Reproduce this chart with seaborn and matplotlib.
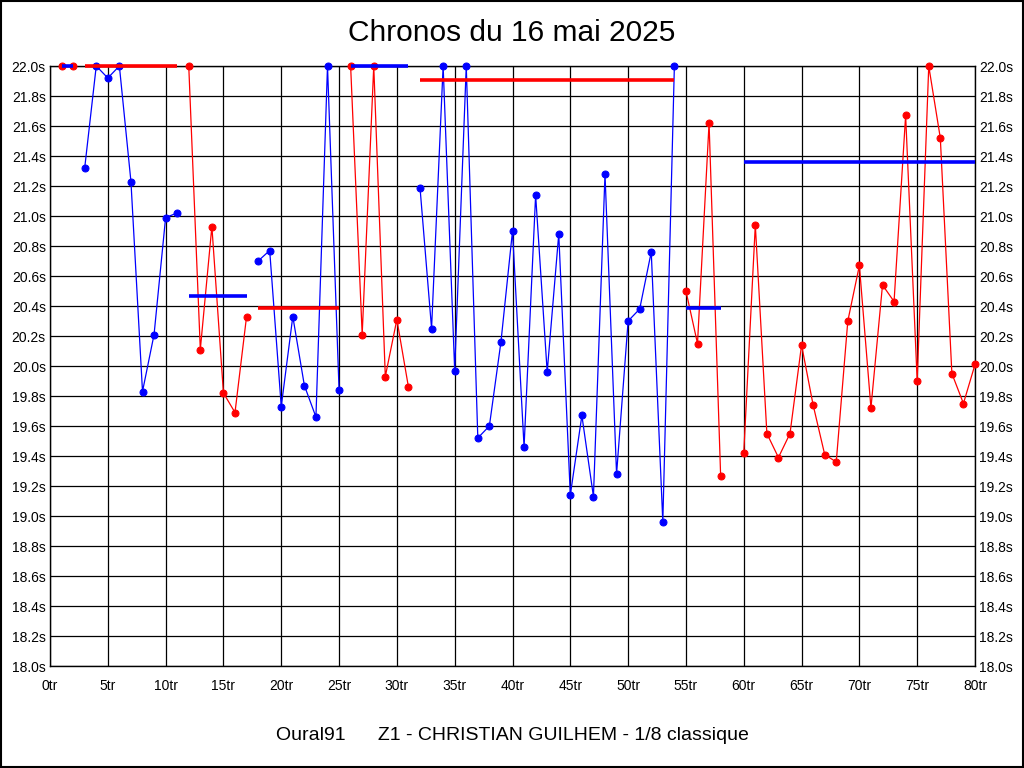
import numpy as np
import pandas as pd
import matplotlib
matplotlib.use("Agg")
import matplotlib.pyplot as plt
from matplotlib.patches import Rectangle
import seaborn as sns

# lap times (s), values above 22 s are shown clipped at 22.0
tours = list(range(1, 81))
chronos = [
    22.00, 22.00, 21.32, 22.00, 21.92, 22.00, 21.23, 19.83, 20.21, 20.99,
    21.02, 22.00, 20.11, 20.93, 19.82, 19.69, 20.33, 20.70, 20.77, 19.73,
    20.33, 19.87, 19.66, 22.00, 19.84, 22.00, 20.21, 22.00, 19.93, 20.31,
    19.86, 21.19, 20.25, 22.00, 19.97, 22.00, 19.52, 19.60, 20.16, 20.90,
    19.46, 21.14, 19.96, 20.88, 19.14, 19.67, 19.13, 21.28, 19.28, 20.30,
    20.38, 20.76, 18.96, 22.00, 20.50, 20.15, 21.62, 19.27, np.nan, 19.42,
    20.94, 19.55, 19.39, 19.55, 20.14, 19.74, 19.41, 19.36, 20.30, 20.67,
    19.72, 20.54, 20.43, 21.67, 19.90, 22.00, 21.52, 19.95, 19.75, 20.01,
]

# stints (relais): first lap, last lap, point colour, mean-line colour, mean
relais_debut = [1, 3, 12, 18, 26, 32, 55, 60]
relais_fin = [2, 11, 17, 25, 31, 54, 58, 80]
relais_couleur = ["red", "blue", "red", "blue", "red", "blue", "red", "red"]
moyenne_couleur = ["blue", "red", "blue", "red", "blue", "red", "blue", "blue"]
moyennes = [22.00, 22.00, 20.47, 20.39, 22.00, 21.91, 20.385, 21.36]

df = pd.DataFrame({"tour": tours, "chrono": chronos})

sns.set_style("white")
plt.rcParams["font.family"] = ["Liberation Sans", "DejaVu Sans"]
plt.rcParams["text.color"] = "black"
plt.rcParams["xtick.color"] = "black"
plt.rcParams["ytick.color"] = "black"

fig = plt.figure(figsize=(10.24, 7.68), dpi=100)
ax = fig.add_axes([50 / 1024, 102 / 768, 925 / 1024, 600 / 768])

# grid
for v in np.arange(18.0, 22.01, 0.2):
    ax.axhline(v, color="black", lw=0.9, zorder=1)
for t in range(0, 81, 5):
    ax.axvline(t, color="black", lw=0.9, zorder=1)

for i in range(len(relais_debut)):
    seg = df[(df.tour >= relais_debut[i]) & (df.tour <= relais_fin[i])]
    c = relais_couleur[i]
    sns.lineplot(data=seg, x="tour", y="chrono", color=c, lw=0.9,
                 marker="o", markersize=5, markeredgecolor=c,
                 estimator=None, ax=ax, zorder=3, clip_on=False)
    ax.hlines(moyennes[i], relais_debut[i], relais_fin[i],
              color=moyenne_couleur[i], lw=2.6, zorder=4, clip_on=False)

ax.set_xlim(0, 80)
ax.set_ylim(18.0, 22.0)
xt = list(range(0, 81, 5))
ax.set_xticks(xt)
ax.set_xticklabels([f"{t}tr" for t in xt], fontsize=10)
yt = np.round(np.arange(18.0, 22.01, 0.2), 1)
ax.set_yticks(yt)
ax.set_yticklabels([f"{v:.1f}s" for v in yt], fontsize=10)
ax.tick_params(axis="y", length=0, pad=3, labelright=True, labelcolor="black")
ax.tick_params(axis="x", length=0, pad=9, labelcolor="black")
ax.set_xlabel("")
ax.set_ylabel("")
for s in ax.spines.values():
    s.set_color("black")
    s.set_linewidth(1)

fig.text(0.5, 1 - 33 / 768, "Chronos du 16 mai 2025", ha="center", va="center",
         fontsize=21.5, color="black")
fig.text(0.5, 1 - 735 / 768,
         "Oural91      Z1 - CHRISTIAN GUILHEM - 1/8 classique",
         ha="center", va="center", fontsize=14, color="black")

fig.patches.append(Rectangle((0.0005, 0.0008), 0.999, 0.9985, transform=fig.transFigure,
                             fill=False, edgecolor="black", lw=1.5))

fig.savefig("out.png", dpi=100, facecolor="white")
